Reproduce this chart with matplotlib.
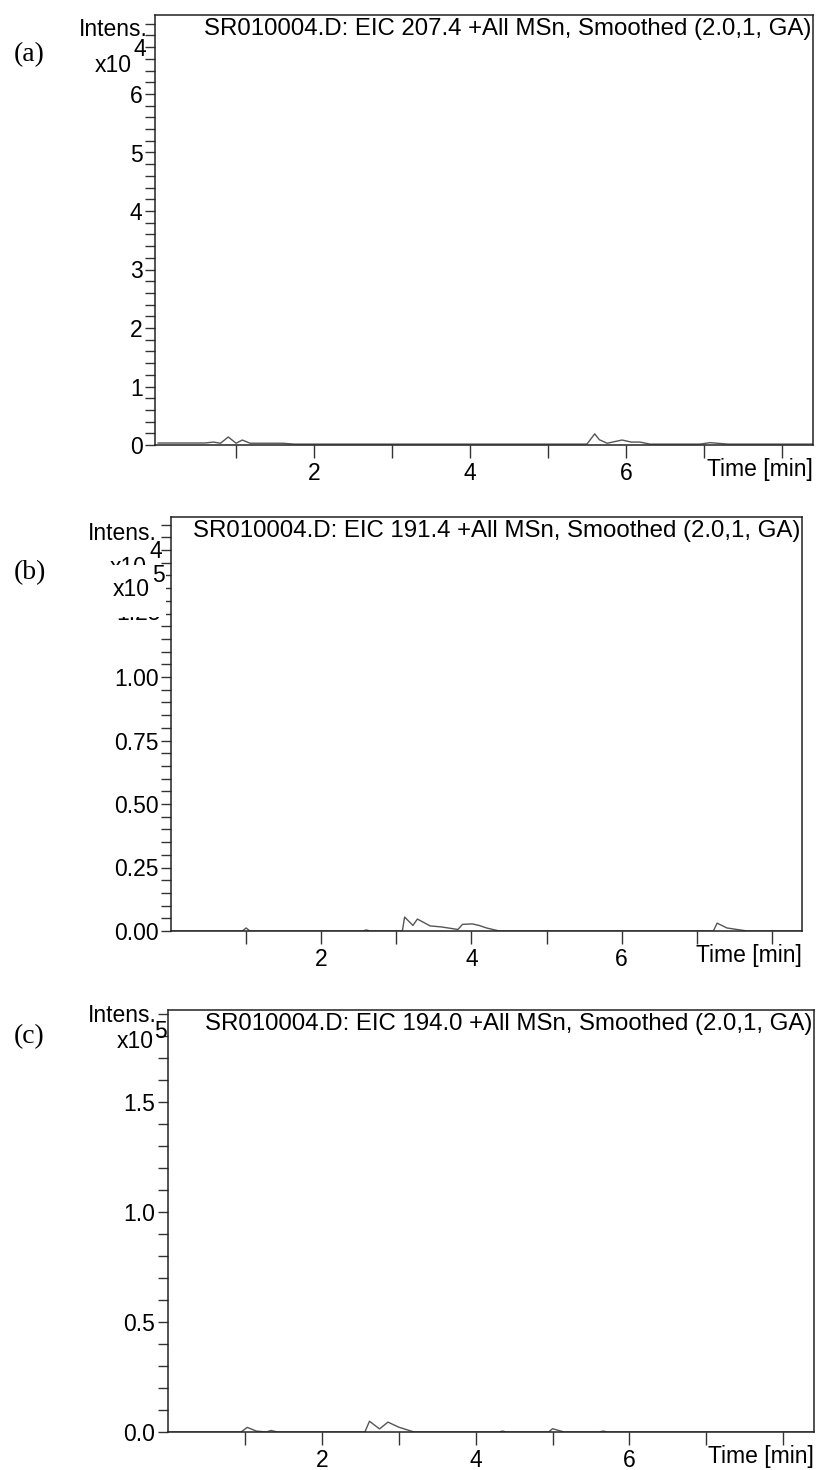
import numpy as np
import matplotlib
matplotlib.use("Agg")
import matplotlib.pyplot as plt
from matplotlib.ticker import MultipleLocator, FixedLocator
from matplotlib.patches import Rectangle

W, H = 824, 1470

# (a) EIC 207.4, intensity x10^4
time_a = [0.0, 0.6, 0.71, 0.80, 0.90, 1.00, 1.08, 1.18, 1.6, 1.75, 5.50, 5.56, 5.60,
          5.66, 5.76, 5.95, 6.07, 6.18, 6.31, 6.95, 7.08, 7.31, 8.4]
int_a = [0.034, 0.034, 0.05, 0.03, 0.137, 0.03, 0.085, 0.03, 0.03, 0.015, 0.015, 0.12, 0.19,
         0.09, 0.03, 0.085, 0.05, 0.05, 0.015, 0.015, 0.04, 0.015, 0.015]

# (b) EIC 191.4, intensity x10^5
time_b = [0.0, 0.95, 1.0, 1.05, 2.55, 2.6, 2.65, 3.08, 3.11, 3.22, 3.28, 3.45, 3.6,
          3.82, 3.88, 4.01, 4.1, 4.2, 4.37, 7.22, 7.27, 7.4, 7.67, 8.4]
int_b = [0.0, 0.0, 0.012, 0.0, 0.0, 0.004, 0.0, 0.0, 0.055, 0.022, 0.047, 0.02, 0.016,
         0.006, 0.026, 0.028, 0.022, 0.012, 0.0, 0.0, 0.031, 0.012, 0.0, 0.0]

# (c) EIC 194.0, intensity x10^5
time_c = [0.0, 0.95, 1.03, 1.15, 1.28, 1.34, 1.42, 2.56, 2.62, 2.75, 2.86, 3.0, 3.2,
          4.3, 4.35, 4.4, 4.95, 5.0, 5.15, 5.6, 5.66, 5.72, 8.4]
int_c = [0.0, 0.0, 0.021, 0.004, 0.0, 0.007, 0.0, 0.0, 0.049, 0.014, 0.045, 0.022, 0.0,
         0.0, 0.004, 0.0, 0.0, 0.015, 0.0, 0.0, 0.004, 0.0, 0.0]

titles = ["SR010004.D: EIC 207.4 +All MSn, Smoothed (2.0,1, GA)",
          "SR010004.D: EIC 191.4 +All MSn, Smoothed (2.0,1, GA)",
          "SR010004.D: EIC 194.0 +All MSn, Smoothed (2.0,1, GA)"]
letters = ["(a)", "(b)", "(c)"]

sans = ['Liberation Sans', 'DejaVu Sans']
serif = ['Liberation Serif', 'DejaVu Serif']
FS = 16.5

fig = plt.figure(figsize=(W / 100, H / 100), dpi=100)


def fx(px):
    return px / W


def fy(py):
    return 1 - py / H


def px_axes(left, top, right, bottom):
    return fig.add_axes([fx(left), fy(bottom), (right - left) / W, (bottom - top) / H])


def panel(ax, t, y, xlo, ytop, major, minor, fmt, ymaxlab, title):
    ax.plot(t, y, color='#555555', lw=1.0)
    ax.set_xlim(xlo, 8.4)
    ax.set_ylim(0, ytop)
    ax.xaxis.set_major_locator(FixedLocator([1, 2, 3, 4, 5, 6, 7, 8]))
    ax.set_xticklabels(['', '2', '', '4', '', '6', '', ''], family=sans, fontsize=FS)
    ax.yaxis.set_major_locator(MultipleLocator(major))
    ax.yaxis.set_minor_locator(MultipleLocator(minor))
    ax.yaxis.set_major_formatter(lambda v, p: (fmt % v) if v <= ymaxlab + 1e-9 else '')
    for lab in ax.get_yticklabels():
        lab.set_family(sans)
        lab.set_fontsize(FS)
    ax.tick_params(axis='x', length=9, width=1, pad=3, color='#333333')
    ax.tick_params(axis='y', which='both', length=7, width=1, pad=2, color='#333333')
    for s in ax.spines.values():
        s.set_linewidth(1.1)
        s.set_color('#222222')
    hpx = ax.get_position().height * H
    ax.text(0.998, 1.0 - 3 / hpx, title, transform=ax.transAxes,
            ha='right', va='top', family=sans, fontsize=17.3)
    ax.text(1.0, -13 / hpx, 'Time [min]', transform=ax.transAxes,
            ha='right', va='top', family=sans, fontsize=FS)


boxes = [(155, 15, 813, 445), (171, 517, 802, 931), (168, 1010, 814, 1432)]
xlos = [-0.04, 0.0, 0.0]
pxunit = [58.5, 254.0, 220.0]
majors = [1, 0.25, 0.5]
minors = [0.2, 0.05, 0.1]
fmts = ['%g', '%.2f', '%.1f']
ymaxlabs = [6, 1.0, 1.5]
series = [(time_a, int_a), (time_b, int_b), (time_c, int_c)]
letter_y = [55, 573, 1037]
intens_pos = [(148, 30), (157, 533), (157, 1015)]

for i in range(3):
    left, top, right, bottom = boxes[i]
    ax = px_axes(left, top, right, bottom)
    ytop = (bottom - top) / pxunit[i]
    panel(ax, series[i][0], series[i][1], xlos[i], ytop, majors[i], minors[i], fmts[i],
          ymaxlabs[i], titles[i])
    ix, iy = intens_pos[i]
    fig.text(fx(ix), fy(iy), 'Intens.', ha='right', va='center', family=sans, fontsize=FS)
    fig.text(fx(14), fy(letter_y[i]), letters[i], ha='left', va='center',
             family=serif, fontsize=20)

# exponent labels
fig.text(fx(132), fy(65), 'x10', ha='right', va='center', family=sans, fontsize=FS)
fig.text(fx(133), fy(50), '4', ha='left', va='center', family=sans, fontsize=FS)

# (b): the old x10^4 and the 1.25 label are partly pasted over by x10^5
fig.text(fx(147), fy(567), 'x10', ha='right', va='center', family=sans, fontsize=FS)
fig.text(fx(150), fy(551), '4', ha='left', va='center', family=sans, fontsize=FS)
fig.text(fx(161), fy(931 - 1.25 * 254), '1.25', ha='right', va='center', family=sans,
         fontsize=FS)
fig.patches.append(Rectangle((fx(106), fy(617)), (166 - 106) / W, (617 - 565) / H,
                             transform=fig.transFigure, facecolor='white',
                             edgecolor='none', zorder=5))
fig.text(fx(150), fy(589), 'x10', ha='right', va='center', family=sans, fontsize=FS,
         zorder=6)
fig.text(fx(152), fy(576), '5', ha='left', va='center', family=sans, fontsize=FS, zorder=6)

fig.text(fx(154), fy(1042), 'x10', ha='right', va='center', family=sans, fontsize=FS)
fig.text(fx(154), fy(1032), '5', ha='left', va='center', family=sans, fontsize=FS)

fig.savefig('out.png', dpi=100)
